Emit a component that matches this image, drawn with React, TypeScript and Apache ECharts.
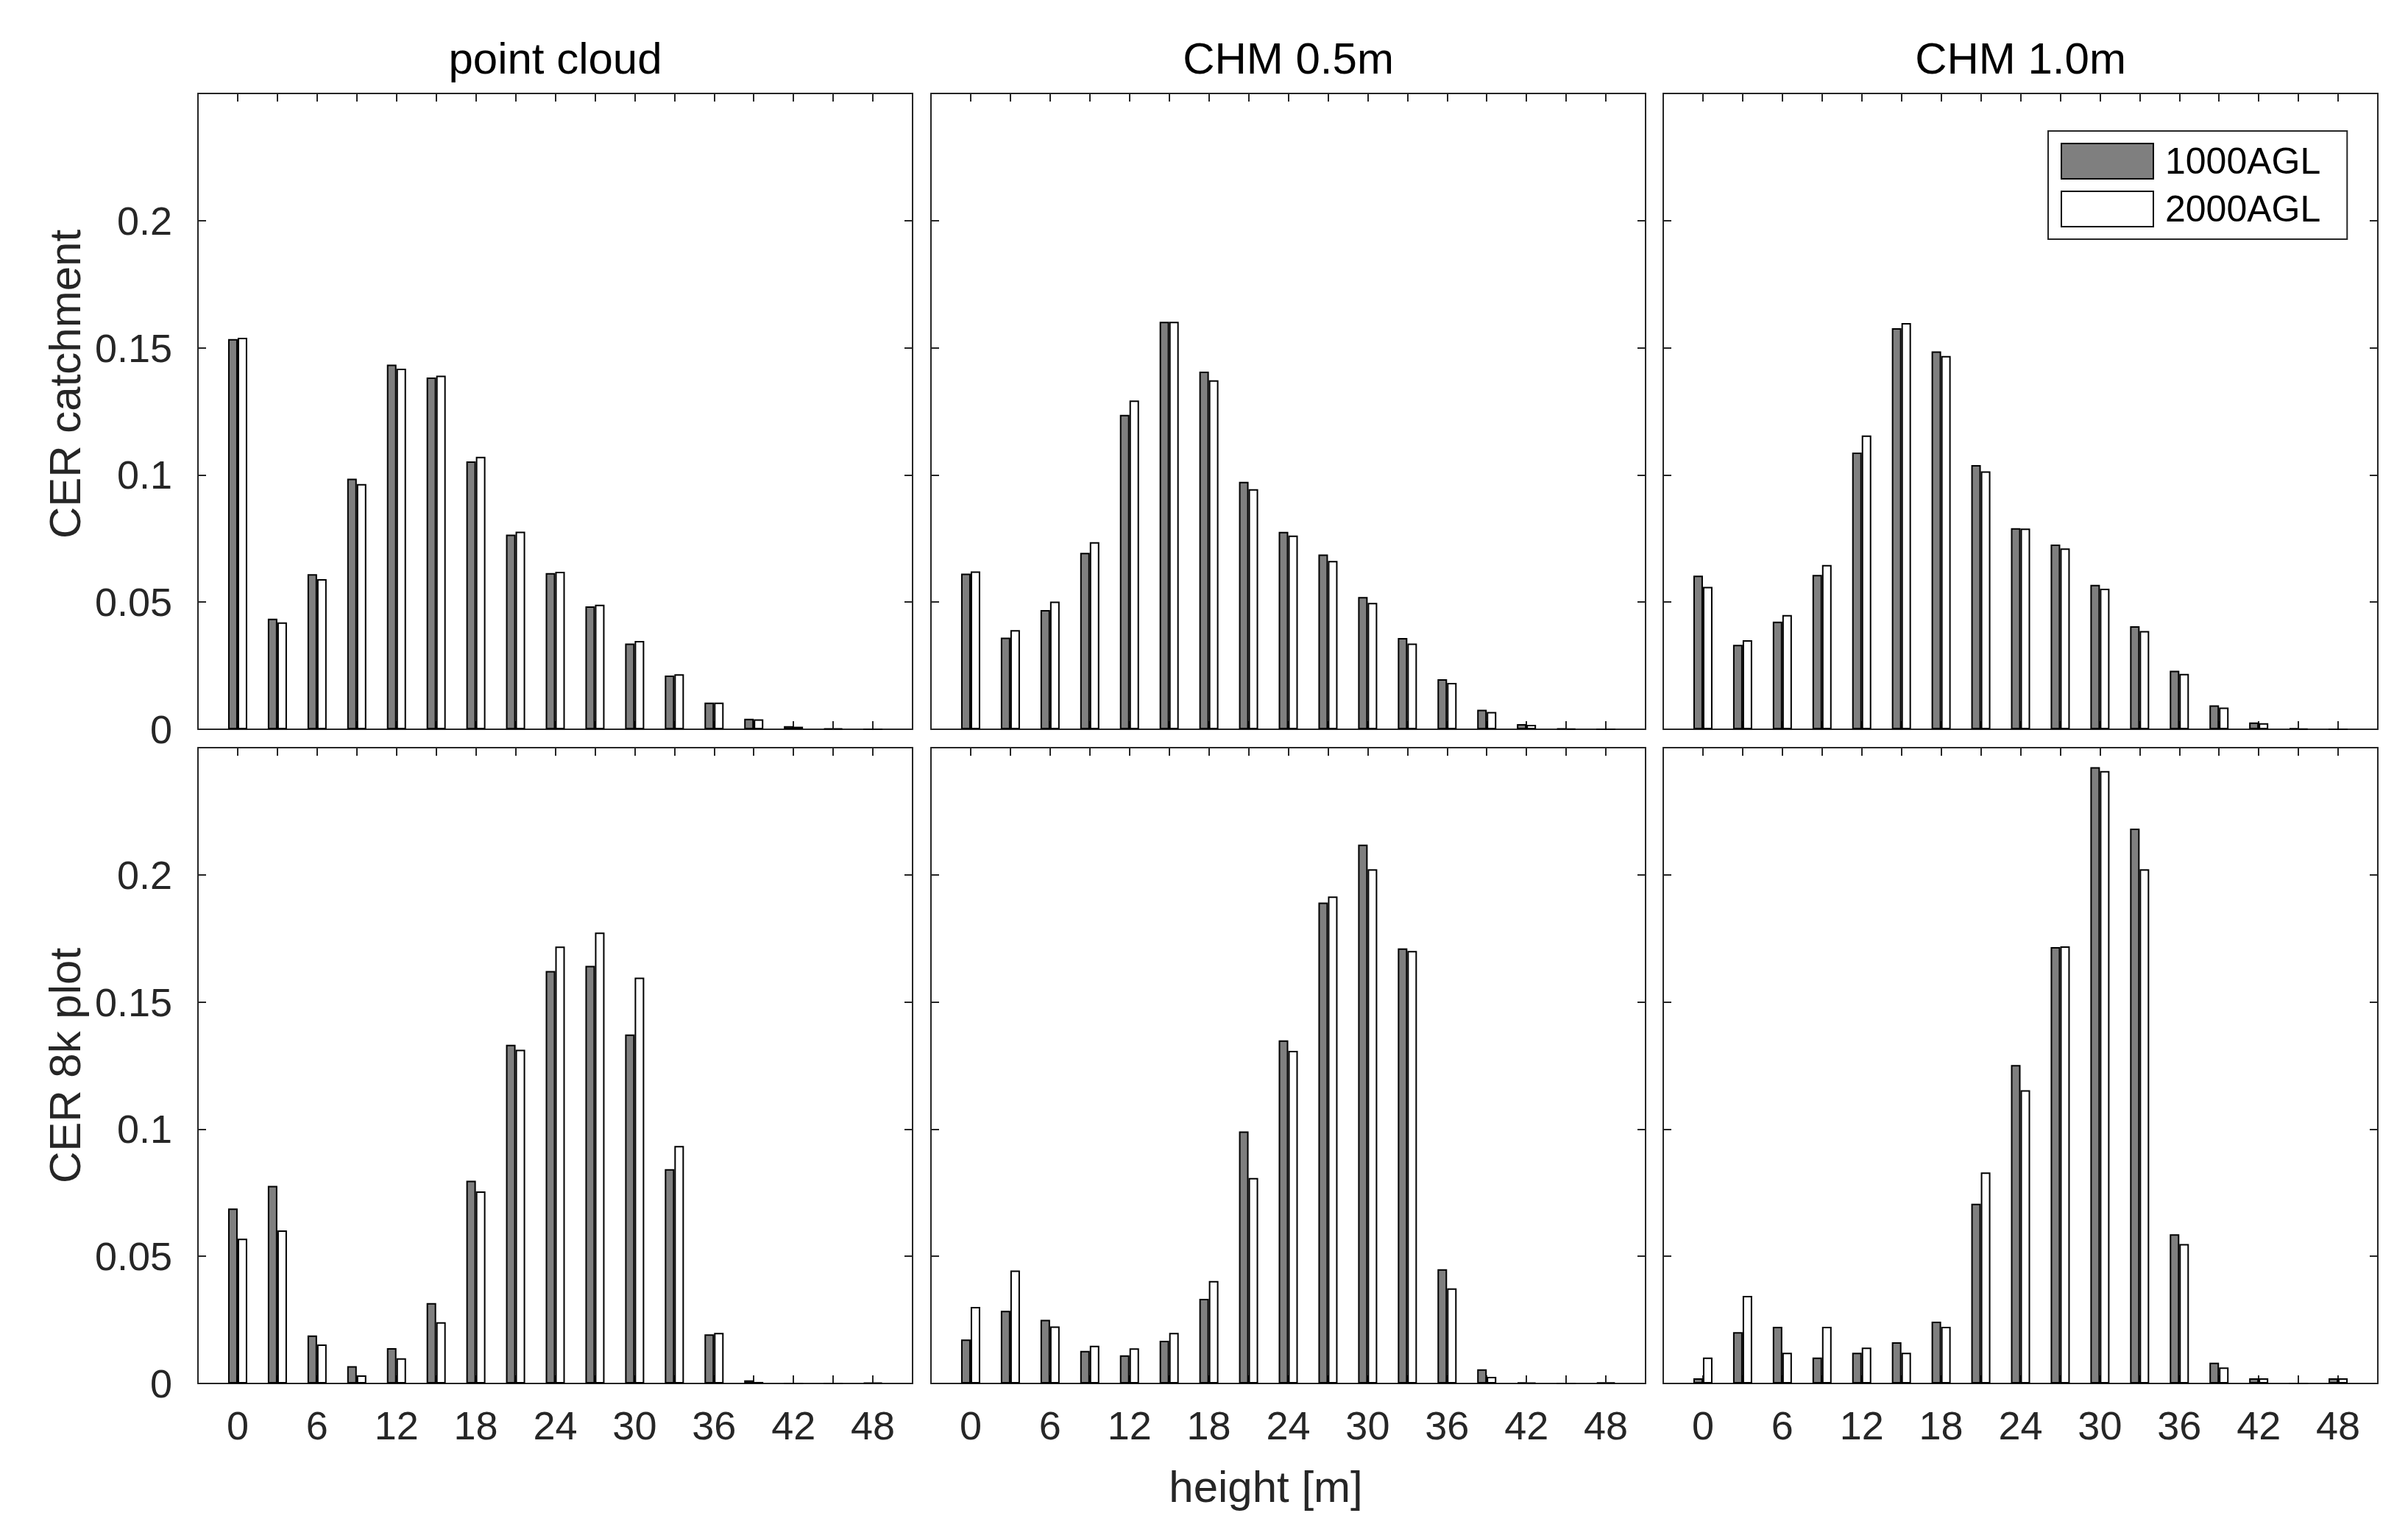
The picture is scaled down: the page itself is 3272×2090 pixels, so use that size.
import React, { useEffect, useRef } from "react";
import * as echarts from "echarts";

const bins = [0, 3, 6, 9, 12, 15, 18, 21, 24, 27, 30, 33, 36, 39, 42, 45, 48];
const seriesNames = ["1000AGL", "2000AGL"];
const columnTitles = ["point cloud", "CHM 0.5m", "CHM 1.0m"];
const rowTitles = ["CER catchment", "CER 8k plot"];
const xTitle = "height [m]";

const pcCatch1000 = [0.1534, 0.0435, 0.061, 0.0985, 0.1434, 0.1383, 0.1053, 0.0765, 0.0614, 0.0483, 0.0337, 0.0211, 0.0105, 0.0041, 0.0012, 0.0003, 0];
const pcCatch2000 = [0.1539, 0.042, 0.059, 0.0964, 0.1418, 0.139, 0.1071, 0.0777, 0.0619, 0.049, 0.0347, 0.0216, 0.0105, 0.0039, 0.001, 0.0003, 0];
const chm05Catch1000 = [0.0612, 0.036, 0.0469, 0.0694, 0.1236, 0.1602, 0.1406, 0.0973, 0.0776, 0.0687, 0.052, 0.0359, 0.0197, 0.0077, 0.002, 0.0003, 0];
const chm05Catch2000 = [0.0621, 0.039, 0.0502, 0.0736, 0.1293, 0.1602, 0.1372, 0.0944, 0.0762, 0.0662, 0.0497, 0.0337, 0.0182, 0.0068, 0.0017, 0.0002, 0];
const chm10Catch1000 = [0.0604, 0.0332, 0.0423, 0.0607, 0.1088, 0.1577, 0.1486, 0.1039, 0.0791, 0.0726, 0.0568, 0.0405, 0.023, 0.0094, 0.0027, 0.0005, 0];
const chm10Catch2000 = [0.056, 0.035, 0.0449, 0.0646, 0.1155, 0.1597, 0.1468, 0.1014, 0.0789, 0.0711, 0.0553, 0.0386, 0.0218, 0.0085, 0.0024, 0.0002, 0];
const pcPlot1000 = [0.0688, 0.0777, 0.0189, 0.0068, 0.0139, 0.0316, 0.0797, 0.1332, 0.1622, 0.1642, 0.1372, 0.0843, 0.0193, 0.0012, 0, 0, 0.0003];
const pcPlot2000 = [0.0569, 0.0602, 0.0153, 0.0032, 0.0099, 0.0241, 0.0755, 0.1312, 0.1718, 0.1773, 0.1596, 0.0934, 0.0199, 0.0006, 0, 0, 0.0003];
const chm05Plot1000 = [0.0173, 0.0286, 0.025, 0.0128, 0.0111, 0.0168, 0.0333, 0.0991, 0.1349, 0.1891, 0.2119, 0.1711, 0.0449, 0.0056, 0.0005, 0, 0.0004];
const chm05Plot2000 = [0.0301, 0.0444, 0.0224, 0.0148, 0.0138, 0.0199, 0.0403, 0.0808, 0.1308, 0.1915, 0.2022, 0.1701, 0.0374, 0.0026, 0.0003, 0, 0.0004];
const chm10Plot1000 = [0.002, 0.0202, 0.0223, 0.0102, 0.0121, 0.0162, 0.0243, 0.0707, 0.1252, 0.1716, 0.2423, 0.2182, 0.0587, 0.0082, 0.002, 0, 0.002];
const chm10Plot2000 = [0.0102, 0.0344, 0.0121, 0.0223, 0.0141, 0.0121, 0.0223, 0.083, 0.1153, 0.1719, 0.2408, 0.2022, 0.0548, 0.0063, 0.002, 0, 0.002];

const panelData = [
  [pcCatch1000, pcCatch2000],
  [chm05Catch1000, chm05Catch2000],
  [chm10Catch1000, chm10Catch2000],
  [pcPlot1000, pcPlot2000],
  [chm05Plot1000, chm05Plot2000],
  [chm10Plot1000, chm10Plot2000],
];

const W = 3272;
const H = 2090;
const FONT = "'Liberation Sans', Arial, Helvetica, sans-serif";
const AX = "#262626";
const colLefts = [269, 1265, 2260];
const rowTops = [127, 1016];
const PW = 971;
const PH = 864;

export default function App() {
  const ref = useRef<HTMLDivElement>(null);
  useEffect(() => {
    document.body.style.margin = "0";
    if (!ref.current) return;
    const chart = echarts.init(ref.current, undefined, { renderer: "svg" });

    const grids: any[] = [];
    const xAxes: any[] = [];
    const yAxes: any[] = [];
    const series: any[] = [];
    const lineStyle = { color: AX, width: 2 };

    for (let r = 0; r < 2; r++) {
      for (let c = 0; c < 3; c++) {
        const g = r * 3 + c;
        grids.push({ left: colLefts[c], top: rowTops[r], width: PW, height: PH, containLabel: false });
        const xBase = {
          type: "value",
          gridIndex: g,
          min: -3,
          max: 51,
          interval: 3,
          splitLine: { show: false },
          axisLine: { show: true, onZero: false, lineStyle },
          axisTick: { show: true, inside: true, length: 11, lineStyle },
        };
        xAxes.push({
          ...xBase,
          position: "bottom",
          axisLabel: {
            show: r === 1,
            margin: 30,
            fontSize: 54,
            fontFamily: FONT,
            color: AX,
            showMinLabel: false,
            showMaxLabel: false,
            formatter: (v: number) => (v >= 0 && v <= 48 && v % 6 === 0 ? String(v) : ""),
          },
        });
        xAxes.push({ ...xBase, position: "top", axisLabel: { show: false } });
        const yBase = {
          type: "value",
          gridIndex: g,
          min: 0,
          max: 0.25,
          interval: 0.05,
          splitLine: { show: false },
          axisLine: { show: true, onZero: false, lineStyle },
          axisTick: { show: true, inside: true, length: 11, lineStyle },
        };
        yAxes.push({
          ...yBase,
          position: "left",
          axisLabel: {
            show: c === 0,
            margin: 35,
            fontSize: 54,
            fontFamily: FONT,
            color: AX,
            showMaxLabel: false,
            formatter: (v: number) => (v > 0.24 ? "" : String(parseFloat(v.toFixed(2)))),
          },
        });
        yAxes.push({ ...yBase, position: "right", axisLabel: { show: false } });

        panelData[g].forEach((vals, k) => {
          series.push({
            type: "bar",
            name: seriesNames[k],
            xAxisIndex: 2 * g,
            yAxisIndex: 2 * g,
            barWidth: 13,
            barGap: "0%",
            data: bins.map((b, i) => [b, vals[i]]),
            itemStyle: {
              color: k === 0 ? "#7f7f7f" : "#ffffff",
              borderColor: "#000000",
              borderWidth: 2,
            },
            emphasis: { disabled: true },
          });
        });
      }
    }

    const graphic: any[] = [];
    columnTitles.forEach((t, c) => {
      graphic.push({
        type: "text",
        x: colLefts[c] + PW / 2,
        y: 79,
        style: { text: t, fontSize: 60, fontFamily: FONT, fill: "#000", textAlign: "center", textVerticalAlign: "middle" },
      });
    });
    const rowCenters = [522, 1448];
    rowTitles.forEach((t, r) => {
      graphic.push({
        type: "text",
        x: 88,
        y: rowCenters[r],
        rotation: Math.PI / 2,
        style: { text: t, fontSize: 60, fontFamily: FONT, fill: AX, textAlign: "center", textVerticalAlign: "middle" },
      });
    });
    graphic.push({
      type: "text",
      x: 1720,
      y: 2020,
      style: { text: xTitle, fontSize: 60, fontFamily: FONT, fill: AX, textAlign: "center", textVerticalAlign: "middle" },
    });

    chart.setOption({
      animation: false,
      backgroundColor: "#ffffff",
      grid: grids,
      xAxis: xAxes,
      yAxis: yAxes,
      series,
      graphic,
      legend: {
        data: seriesNames,
        orient: "vertical",
        left: 2783,
        top: 178,
        itemWidth: 125,
        itemHeight: 48,
        itemGap: 15,
        padding: [16, 36, 16, 17],
        borderColor: AX,
        borderWidth: 2,
        backgroundColor: "#ffffff",
        icon: "rect",
        selectedMode: false,
        itemStyle: { borderColor: "#000000", borderWidth: 2 },
        textStyle: { fontSize: 50, fontFamily: FONT, color: "#000", padding: [0, 0, 0, 11] },
      },
    });
    return () => chart.dispose();
  }, []);
  return <div ref={ref} style={{ width: W, height: H }} />;
}
